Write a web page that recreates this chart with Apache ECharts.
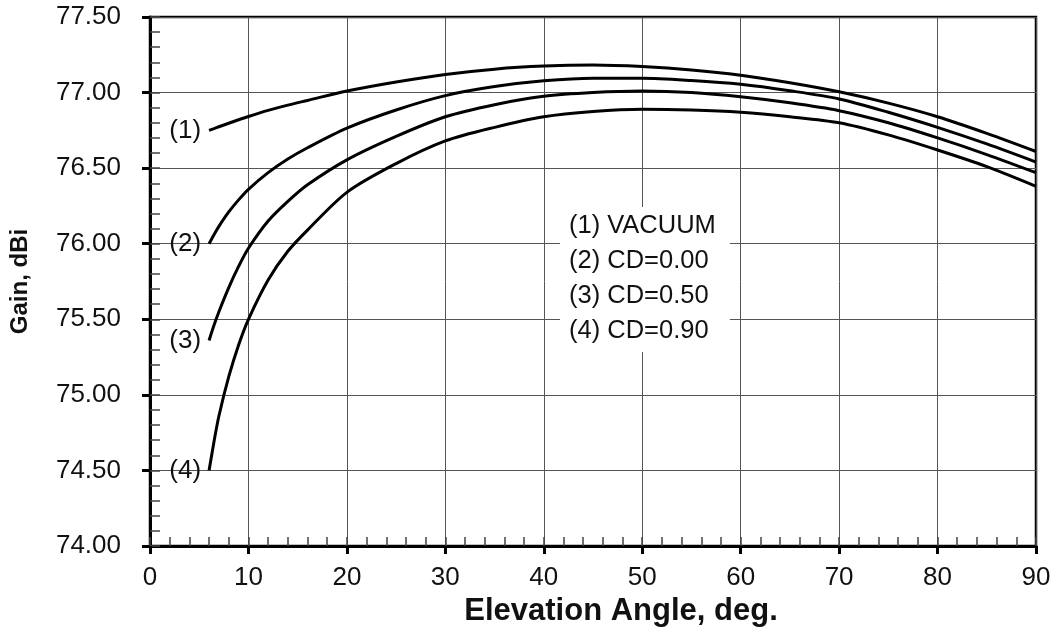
<!DOCTYPE html>
<html>
<head>
<meta charset="utf-8">
<script src="https://cdn.jsdelivr.net/npm/echarts@6/dist/echarts.min.js"></script>
<style>
html,body{margin:0;padding:0;background:#fff;}
#chart{width:1058px;height:644px;}
</style>
</head>
<body>
<div id="chart"></div>
<script>
// Elevation angle (deg)
const angles = [6, 6.5, 7, 8, 9, 10, 12, 14, 16, 20, 25, 30, 35, 40, 45, 50, 55, 60, 65, 70, 75, 80, 85, 90];
// Gain (dBi) for each case
const vacuum = [76.75, 76.762, 76.774, 76.797, 76.82, 76.842, 76.882, 76.917, 76.948, 77.01, 77.07, 77.12, 77.155, 77.175, 77.182, 77.172, 77.15, 77.115, 77.065, 77.005, 76.93, 76.84, 76.73, 76.61];
const cd000 = [76.00, 76.06, 76.115, 76.21, 76.29, 76.36, 76.47, 76.56, 76.635, 76.765, 76.885, 76.98, 77.04, 77.078, 77.095, 77.095, 77.08, 77.055, 77.012, 76.958, 76.87, 76.77, 76.66, 76.54];
const cd050 = [75.36, 75.46, 75.55, 75.71, 75.85, 75.97, 76.15, 76.28, 76.39, 76.555, 76.71, 76.84, 76.92, 76.975, 77.0, 77.01, 77.0, 76.972, 76.932, 76.88, 76.80, 76.70, 76.59, 76.47];
const cd090 = [74.50, 74.69, 74.86, 75.12, 75.33, 75.50, 75.76, 75.95, 76.09, 76.34, 76.53, 76.68, 76.77, 76.84, 76.875, 76.89, 76.885, 76.87, 76.84, 76.80, 76.72, 76.62, 76.51, 76.38];
const seriesNames = ['(1) VACUUM', '(2) CD=0.00', '(3) CD=0.50', '(4) CD=0.90'];
const curveTags = ['(1)', '(2)', '(3)', '(4)'];
const seriesValues = [vacuum, cd000, cd050, cd090];
// Axis ticks
const xMin = 0, xMax = 90, xStep = 10, xMinorStep = 2;
const yMin = 74, yMax = 77.5, yStep = 0.5, yMinorStep = 0.1;

const FONT = '"Liberation Sans", Arial, Helvetica, sans-serif';
const chart = echarts.init(document.getElementById('chart'), null, {renderer: 'canvas'});

const series = seriesValues.map((vals, s) => ({
  name: seriesNames[s],
  type: 'line',
  xAxisIndex: 0,
  yAxisIndex: 0,
  smooth: 0.3,
  symbol: 'circle',
  symbolSize: 0,
  showSymbol: true,
  silent: true,
  animation: false,
  lineStyle: {color: '#000', width: 3},
  itemStyle: {color: '#000'},
  emphasis: {disabled: true},
  data: angles.map((a, i) => i === 0 ? {
    value: [a, vals[i]],
    label: {show: true, formatter: curveTags[s], position: 'left', distance: 8,
             color: '#111', fontSize: 26, fontFamily: FONT}
  } : [a, vals[i]])
}));

chart.setOption({
  backgroundColor: '#fff',
  animation: false,
  textStyle: {fontFamily: FONT},
  grid: {left: 147, right: 22, top: 17, bottom: 98, show: true, borderColor: '#000', borderWidth: 2.5, backgroundColor: 'transparent'},
  legend: {
    data: seriesNames,
    orient: 'vertical',
    left: 560,
    top: 207,
    icon: 'none',
    itemWidth: 0,
    itemHeight: 0,
    itemGap: 9,
    selectedMode: false,
    backgroundColor: '#fff',
    padding: [6, 14, 8, 4],
    textStyle: {fontSize: 25.5, color: '#111', fontFamily: FONT}
  },
  xAxis: [{
    type: 'value', min: xMin, max: xMax, interval: xStep,
    name: 'Elevation Angle, deg.', nameLocation: 'middle', nameGap: 50,
    nameTextStyle: {fontSize: 31, fontWeight: 'bold', color: '#111', fontFamily: FONT, padding: [0, 0, 0, 56]},
    axisLine: {show: true, onZero: false, lineStyle: {color: '#000', width: 3}},
    axisTick: {show: true, inside: false, length: 8, lineStyle: {color: '#000', width: 3}},
    axisLabel: {fontSize: 26, color: '#111', margin: 19, fontFamily: FONT},
    splitLine: {show: true, lineStyle: {color: '#555', width: 1}}
  }, {
    type: 'value', min: xMin, max: xMax, interval: xMinorStep, position: 'bottom',
    axisLine: {show: false},
    axisTick: {show: true, inside: true, length: 9, lineStyle: {color: '#444', width: 1.5}},
    axisLabel: {show: false},
    splitLine: {show: false}
  }],
  yAxis: [{
    type: 'value', min: yMin, max: yMax, interval: yStep,
    name: 'Gain, dBi', nameLocation: 'middle', nameGap: 118, nameRotate: 90,
    nameTextStyle: {fontSize: 24, fontWeight: 'bold', color: '#111', fontFamily: FONT},
    axisLine: {show: true, onZero: false, lineStyle: {color: '#000', width: 3}},
    axisTick: {show: true, inside: false, length: 8, lineStyle: {color: '#000', width: 3}},
    axisLabel: {fontSize: 26, color: '#111', margin: 29, fontFamily: FONT, formatter: v => v.toFixed(2)},
    splitLine: {show: true, lineStyle: {color: '#555', width: 1}}
  }, {
    type: 'value', min: yMin, max: yMax, interval: yMinorStep, position: 'left',
    axisLine: {show: false},
    axisTick: {show: true, inside: true, length: 10, lineStyle: {color: '#444', width: 1.5}},
    axisLabel: {show: false},
    splitLine: {show: false}
  }],
  series: series
});
</script>
</body>
</html>
